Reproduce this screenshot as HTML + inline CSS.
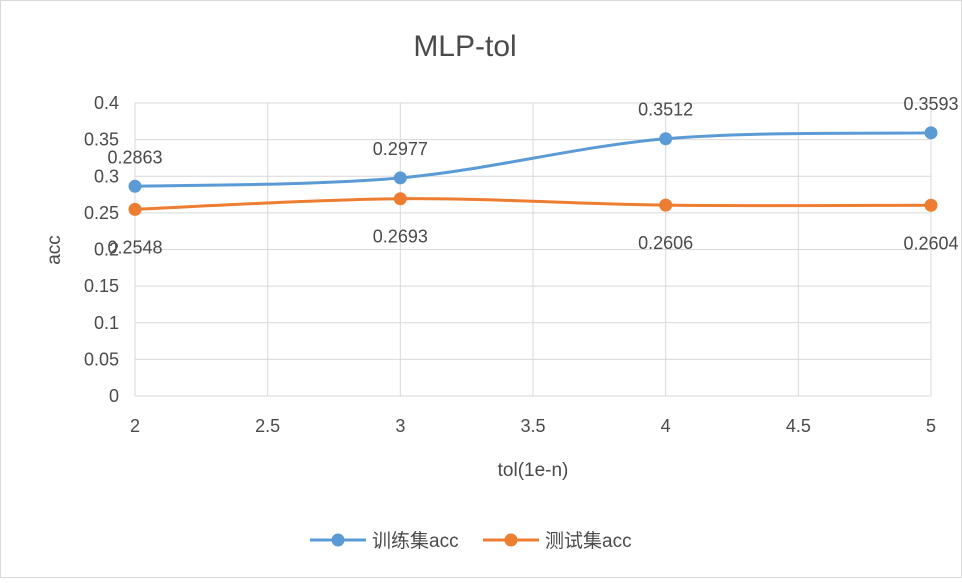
<!DOCTYPE html>
<html><head><meta charset="utf-8"><style>
body{margin:0;background:#fff;}
svg text{font-family:"Liberation Sans","Noto Sans CJK SC",sans-serif;fill:#4a4a4a;}
</style></head><body>
<svg id="c" width="962" height="578" xmlns="http://www.w3.org/2000/svg">
<rect x="0.5" y="0.5" width="961" height="577" fill="#fff" stroke="#d9d9d9"/>
<text x="465" y="56" font-size="30" text-anchor="middle">MLP-tol</text>
<g id="grid"></g><g id="ticks"></g><g id="series"></g>
<text x="533" y="476" font-size="19" text-anchor="middle">tol(1e-n)</text>
<text x="60" y="250" font-size="19" text-anchor="middle" transform="rotate(-90 60 250)">acc</text>
<g>
<g>
<line x1="310" y1="540" x2="366" y2="540" stroke="#5b9bd5" stroke-width="3"/><circle cx="338" cy="540" r="6.5" fill="#5b9bd5"/>
<text x="372" y="547" font-size="19">训练集acc</text></g>
<g>
<line x1="483" y1="540" x2="539" y2="540" stroke="#ed7d31" stroke-width="3"/><circle cx="511" cy="540" r="6.5" fill="#ed7d31"/>
<text x="545" y="547" font-size="19">测试集acc</text></g>
</g>
</svg>
<script>
const categories=[2,3,4,5];
const trainValues=[0.2863,0.2977,0.3512,0.3593];
const testValues=[0.2548,0.2693,0.2606,0.2604];
const xTicks=[2,2.5,3,3.5,4,4.5,5];
const yTicks=[0,0.05,0.1,0.15,0.2,0.25,0.3,0.35,0.4];
const X=v=>135+(v-2)/3*796;
const Y=v=>396-v/0.4*293;
const NS="http://www.w3.org/2000/svg";
function mk(t,a,p){const e=document.createElementNS(NS,t);for(const k in a)e.setAttribute(k,a[k]);p.appendChild(e);return e;}
const grid=document.getElementById('grid'),ticks=document.getElementById('ticks'),ser=document.getElementById('series');
yTicks.forEach(v=>{const l=mk('line',{x1:135,x2:931,y1:Y(v),y2:Y(v),stroke:'#d9d9d9'},grid);


const t=mk('text',{x:119,y:Y(v)+6,'font-size':18,'text-anchor':'end'},ticks);t.textContent=String(v);

});
xTicks.forEach(v=>{const l=mk('line',{x1:X(v),x2:X(v),y1:Y(0.4),y2:Y(0),stroke:'#d9d9d9'},grid);


const t=mk('text',{x:X(v),y:432,'font-size':18,'text-anchor':'middle'},ticks);t.textContent=String(v);

});
function path(vals){const p=categories.map((c,i)=>[X(c),Y(vals[i])]);let d='M'+p[0];
for(let i=0;i<p.length-1;i++){const p0=p[i-1]||p[i],p1=p[i],p2=p[i+1],p3=p[i+2]||p2;
d+=` C${p1[0]+(p2[0]-p0[0])/6},${p1[1]+(p2[1]-p0[1])/6} ${p2[0]-(p3[0]-p1[0])/6},${p2[1]-(p3[1]-p1[1])/6} ${p2[0]},${p2[1]}`;}return d;}
function draw(vals,color,name,dy){const g=mk('g',{},ser);


mk('path',{d:path(vals),fill:'none',stroke:color,'stroke-width':3},g);
vals.forEach((v,i)=>{const c=mk('circle',{cx:X(categories[i]),cy:Y(v),r:6.5,fill:color},g);


const t=mk('text',{x:X(categories[i]),y:Y(v)+dy,'font-size':18,'text-anchor':'middle'},g);t.textContent=v.toFixed(4);

});}
draw(trainValues,'#5b9bd5','train',-23);
draw(testValues,'#ed7d31','test',44);
</script>
</body></html>
